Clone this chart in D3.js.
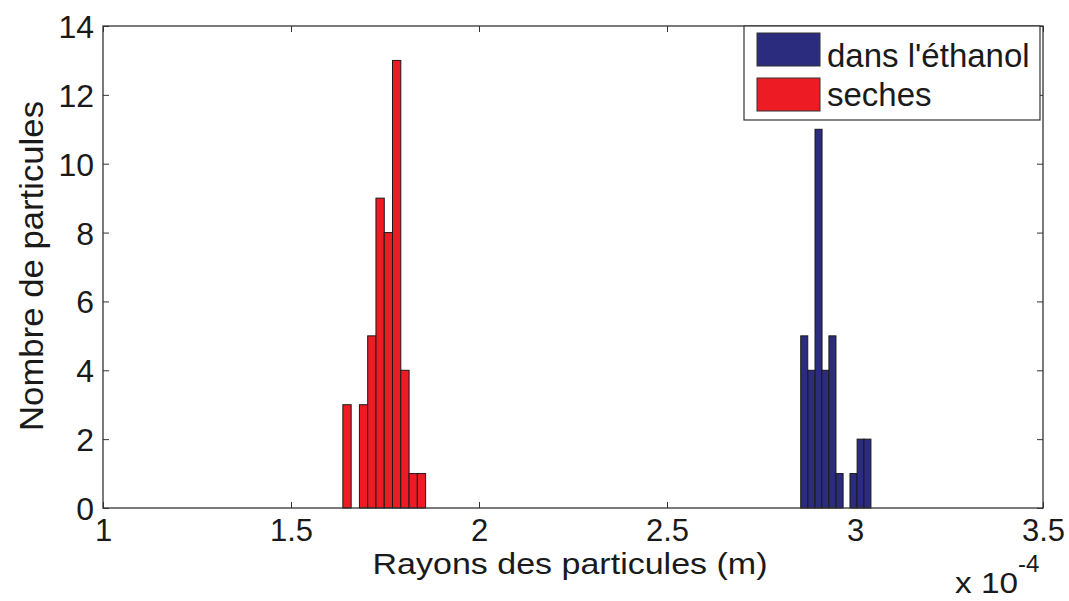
<!DOCTYPE html>
<html><head><meta charset="utf-8">
<script src="https://cdn.jsdelivr.net/npm/d3@7"></script>
<style>body{margin:0;background:#fff;}svg{display:block;}text{font-family:"Liberation Sans",Arial,sans-serif;fill:#1a1a1a;}</style>
</head><body>
<script>
// Values in units of 1e-4 m
const seriesNames = ["dans l'éthanol", "seches"];
const ethanolCenters = [2.865, 2.884, 2.903, 2.921, 2.940, 2.959, 2.977, 2.996, 3.015, 3.033];
const ethanolCounts  = [5, 4, 11, 4, 5, 1, 0, 1, 2, 2];
const ethanolBinWidth = 0.0187;
const sechesCenters = [1.649, 1.671, 1.693, 1.715, 1.737, 1.759, 1.781, 1.803, 1.825, 1.847];
const sechesCounts  = [3, 0, 3, 5, 9, 8, 13, 4, 1, 1];
const sechesBinWidth = 0.0221;
const xTicks = [1, 1.5, 2, 2.5, 3, 3.5];
const yTicks = [0, 2, 4, 6, 8, 10, 12, 14];
const colors = ["#2b2c7e", "#ed1c24"];

const W = 1069, H = 601;
const m = {l:103, r:1069-1043, t:26, b:601-508};
const svg = d3.select("body").append("svg").attr("width", W).attr("height", H);
const x = d3.scaleLinear().domain([1, 3.5]).range([m.l, W - m.r]);
const y = d3.scaleLinear().domain([0, 14]).range([H - m.b, m.t]);
const iw = W - m.l - m.r, ih = H - m.t - m.b;

const series = [
  {name: seriesNames[0], c: ethanolCenters, v: ethanolCounts, w: ethanolBinWidth, color: colors[0]},
  {name: seriesNames[1], c: sechesCenters, v: sechesCounts, w: sechesBinWidth, color: colors[1]}
];

series.forEach(s => {
  const data = s.c.map((c, i) => ({c, v: s.v[i]})).filter(d => d.v > 0);
  svg.append("g").selectAll("rect").data(data).join("rect")
    .attr("x", d => x(d.c - s.w/2))
    .attr("width", d => x(d.c + s.w/2) - x(d.c - s.w/2))
    .attr("y", d => y(d.v))
    .attr("height", d => y(0) - y(d.v))
    .attr("fill", s.color)
    .attr("stroke", "#1a1a1a").attr("stroke-width", 1);
});

const tickLen = 6;
svg.append("rect").attr("x", m.l).attr("y", m.t).attr("width", iw).attr("height", ih)
  .attr("fill", "none").attr("stroke", "#333").attr("stroke-width", 1.3);

const xb = svg.append("g").attr("transform", `translate(0,${H - m.b})`)
  .call(d3.axisBottom(x).tickValues(xTicks).tickFormat(d3.format("")).tickSizeInner(-tickLen).tickSizeOuter(0).tickPadding(0));
xb.select(".domain").remove();
xb.selectAll("line").attr("stroke", "#333");
xb.selectAll("text").attr("font-size", 31).attr("dy", null).attr("y", 33).style("fill", "#1a1a1a");
const xt = svg.append("g").attr("transform", `translate(0,${m.t})`)
  .call(d3.axisTop(x).tickValues(xTicks).tickFormat("").tickSizeInner(-tickLen).tickSizeOuter(0));
xt.select(".domain").remove(); xt.selectAll("line").attr("stroke", "#333");

const yl = svg.append("g").attr("transform", `translate(${m.l},0)`)
  .call(d3.axisLeft(y).tickValues(yTicks).tickFormat(d3.format("d")).tickSizeInner(-tickLen).tickSizeOuter(0).tickPadding(9));
yl.select(".domain").remove();
yl.selectAll("line").attr("stroke", "#333");
yl.selectAll("text").attr("font-size", 32).attr("dy", "0.36em").style("fill", "#1a1a1a");
const yr = svg.append("g").attr("transform", `translate(${W - m.r},0)`)
  .call(d3.axisRight(y).tickValues(yTicks).tickFormat("").tickSizeInner(-tickLen).tickSizeOuter(0));
yr.select(".domain").remove(); yr.selectAll("line").attr("stroke", "#333");

svg.append("text").attr("x", 570).attr("y", 574).attr("text-anchor", "middle")
  .attr("font-size", 29.5).attr("textLength", 395).attr("lengthAdjust", "spacingAndGlyphs")
  .text("Rayons des particules (m)");
svg.append("text").attr("transform", `translate(43,266) rotate(-90)`)
  .attr("text-anchor", "middle").attr("font-size", 33).attr("textLength", 330).attr("lengthAdjust", "spacingAndGlyphs")
  .text("Nombre de particules");
svg.append("text").attr("x", 955).attr("y", 593).attr("font-size", 29)
  .attr("textLength", 63).attr("lengthAdjust", "spacingAndGlyphs").text("x 10");
svg.append("text").attr("x", 1018).attr("y", 572).attr("font-size", 24).text("-4");

const lg = svg.append("g");
lg.append("rect").attr("x", 744).attr("y", 26).attr("width", 296).attr("height", 94)
  .attr("fill", "#fff").attr("stroke", "#333").attr("stroke-width", 1.2);
const legY = [33, 78], legBase = [67, 106];
series.forEach((s, i) => {
  lg.append("rect").attr("x", 757).attr("y", legY[i]).attr("width", 63).attr("height", 33)
    .attr("fill", s.color).attr("stroke", "#333").attr("stroke-width", 1);
  lg.append("text").attr("x", 827).attr("y", legBase[i]).attr("font-size", 33).text(s.name);
});
</script>
</body></html>
